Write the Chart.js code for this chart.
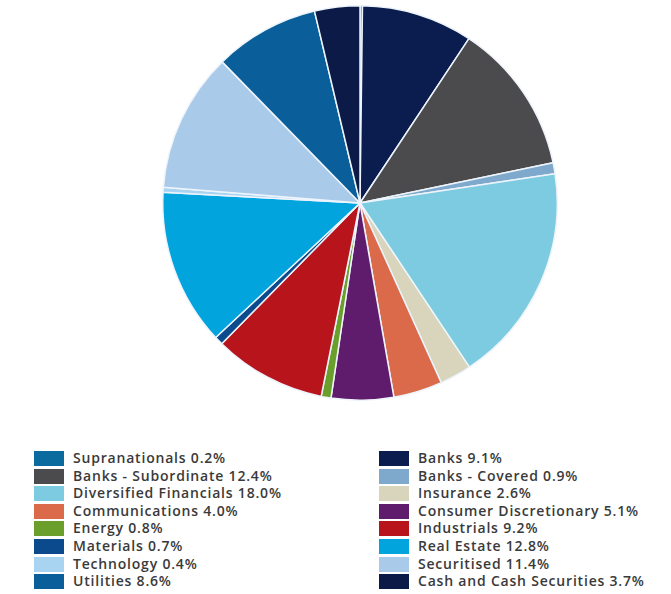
<!DOCTYPE html>
<html>
<head>
<meta charset="utf-8">
<script src="https://cdn.jsdelivr.net/npm/chart.js@4/dist/chart.umd.min.js"></script>
<style>
    body { margin: 0; background: #fff; width: 671px; height: 594px; position: relative; overflow: hidden; }
    #pieBox { position: absolute; left: 158px; top: 5px; width: 404px; height: 396px; }
    #legend { position: absolute; left: 0; top: 451px; width: 671px; font-family: "Open Sans", sans-serif; font-size: 14px; font-weight: 600; color: #3a3a3a; }
    .col { position: absolute; top: 0; }
    .item { height: 17.6px; line-height: 16px; white-space: nowrap; position: relative; }
    .sw { position: absolute; left: 0; top: 0; width: 30px; height: 15px; }
    .lbl { position: absolute; left: 39px; top: -1px; letter-spacing: 0.8px; }
</style>
</head>
<body>
<div id="pieBox"><canvas id="pie"></canvas></div>
<div id="legend"></div>
<script>
// slices in drawing order (clockwise from 12 o'clock)
const sectors = [
    "Supranationals", "Banks", "Banks - Subordinate", "Banks - Covered",
    "Diversified Financials", "Insurance", "Communications", "Consumer Discretionary",
    "Energy", "Industrials", "Materials", "Real Estate",
    "Technology", "Securitised", "Utilities", "Cash and Cash Securities"
];
const weights = [0.2, 9.1, 12.4, 0.9, 18.0, 2.6, 4.0, 5.1, 0.8, 9.2, 0.7, 12.8, 0.4, 11.4, 8.6, 3.7];
const colours = [
    "#0b6a9e", "#0a1d4e", "#4b4b4d", "#7fa8cd",
    "#7dcbe1", "#d9d5bd", "#da6a4a", "#5f1b6c",
    "#6b9f2b", "#b8141c", "#0b4a8d", "#01a4dd",
    "#a8d4f1", "#a9cae9", "#0a5f9a", "#0b1a46"
];

// legend: left column gets even indices, right column odd ones
const legend = document.getElementById("legend");
[[0, 34], [1, 379]].forEach(([start, x]) => {
    const col = document.createElement("div");
    col.className = "col";
    col.style.left = x + "px";
    for (let i = start; i < sectors.length; i += 2) {
        const item = document.createElement("div");
        item.className = "item";
        const sw = document.createElement("span");
        sw.className = "sw";
        sw.style.background = colours[i];
        const lbl = document.createElement("span");
        lbl.className = "lbl";
        lbl.textContent = sectors[i] + " " + weights[i].toFixed(1) + "%";
        item.appendChild(sw);
        item.appendChild(lbl);
        col.appendChild(item);
    }
    legend.appendChild(col);
});

new Chart(document.getElementById("pie"), {
    type: "pie",
    data: {
        labels: sectors,
        datasets: [{
            data: weights,
            backgroundColor: colours,
            borderColor: "#eef4fb",
            borderWidth: 1.5
        }]
    },
    options: {
        responsive: true,
        maintainAspectRatio: false,
        animation: false,
        layout: { padding: 0 },
        plugins: {
            legend: { display: false },
            tooltip: { enabled: false }
        }
    }
});
</script>
</body>
</html>
